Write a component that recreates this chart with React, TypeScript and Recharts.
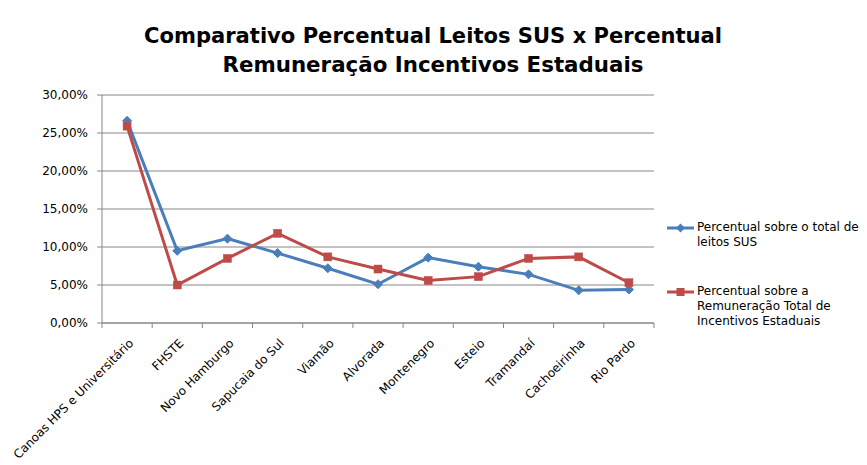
import React from "react";
import { LineChart, Line, XAxis, YAxis, CartesianGrid } from "recharts";

const categories = [
  "Canoas HPS e Universitário",
  "FHSTE",
  "Novo Hamburgo",
  "Sapucaia do Sul",
  "Viamão",
  "Alvorada",
  "Montenegro",
  "Esteio",
  "Tramandaí",
  "Cachoeirinha",
  "Rio Pardo",
];
const leitosSUS = [0.266, 0.095, 0.111, 0.092, 0.072, 0.051, 0.086, 0.074, 0.064, 0.043, 0.044];
const remuneracao = [0.259, 0.05, 0.085, 0.118, 0.087, 0.071, 0.056, 0.061, 0.085, 0.087, 0.053];
const yTicks = [0, 0.05, 0.1, 0.15, 0.2, 0.25, 0.3];
const titleLines = ["Comparativo Percentual Leitos SUS x Percentual", "Remuneração Incentivos Estaduais"];
const seriesNames = ["Percentual sobre o total de leitos SUS", "Percentual sobre a Remuneração Total de Incentivos Estaduais"];

const data = categories.map((c, i) => ({ name: c, leitos: leitosSUS[i], remun: remuneracao[i] }));

const BLUE = "#4A7EBB";
const RED = "#BE4B48";
const GRID = "#868686";
const FONT = "'DejaVu Sans', Verdana, sans-serif";

const fmt = (v: number) => (v * 100).toFixed(2).replace(".", ",") + "%";

const Diamond = (props: any) => {
  const { cx, cy } = props;
  if (cx == null || cy == null) return null;
  const r = 4.5;
  return <path d={`M${cx},${cy - r}L${cx + r},${cy}L${cx},${cy + r}L${cx - r},${cy}Z`} fill={BLUE} stroke={BLUE} strokeWidth={1} />;
};
const Square = (props: any) => {
  const { cx, cy } = props;
  if (cx == null || cy == null) return null;
  return <rect x={cx - 4} y={cy - 4} width={8} height={8} fill={RED} stroke={RED} strokeWidth={0.5} />;
};

const XTick = (props: any) => {
  const { x, y, payload, visibleTicksCount, width } = props;
  const off = payload && payload.offset ? payload.offset : width / (2 * (visibleTicksCount || 11));
  const idx = payload ? payload.index : 0;
  const ax = x + 7;
  const ay = y + 21;
  return (
    <g>
      {idx === 0 && <line x1={x - off} x2={x - off} y1={y} y2={y + 5} stroke={GRID} />}
      <line x1={x + off} x2={x + off} y1={y} y2={y + 5} stroke={GRID} />
      <text x={ax} y={ay} transform={`rotate(-45, ${ax}, ${ay})`} textAnchor="end" fontFamily={FONT} fontSize={12} fill="#000">
        {payload.value}
      </text>
    </g>
  );
};

const LegendItem = ({ color, lines, top, marker }: { color: string; lines: string[]; top: number; marker: "d" | "s" }) => (
  <div style={{ position: "absolute", left: 667, top, fontFamily: FONT, fontSize: 12, lineHeight: "15px", color: "#000" }}>
    <svg width={28} height={10} style={{ position: "absolute", left: 0, top: 3 }}>
      <line x1={0} x2={27} y1={5} y2={5} stroke={color} strokeWidth={3} />
      {marker === "d" ? (
        <path d="M13.5,0.5L18,5L13.5,9.5L9,5Z" fill={color} />
      ) : (
        <rect x={9.5} y={1} width={8} height={8} fill={color} />
      )}
    </svg>
    <div style={{ marginLeft: 30, whiteSpace: "nowrap" }}>
      {lines.map((l, i) => (
        <div key={i}>{l}</div>
      ))}
    </div>
  </div>
);

export default function App() {
  return (
    <div style={{ position: "absolute", left: 0, top: 0, width: 867, height: 465, background: "#fff" }}>
      <svg width={867} height={90} style={{ position: "absolute", left: 0, top: 0 }}>
        <text x={433} y={43} textAnchor="middle" fontFamily={FONT} fontWeight="bold" fontSize={22} textLength={578} lengthAdjust="spacingAndGlyphs" fill="#000">
          {titleLines[0]}
        </text>
        <text x={433} y={72} textAnchor="middle" fontFamily={FONT} fontWeight="bold" fontSize={22} textLength={421} lengthAdjust="spacingAndGlyphs" fill="#000">
          {titleLines[1]}
        </text>
      </svg>
      <div style={{ position: "absolute", left: 0, top: 0 }}>
        <LineChart width={867} height={465} data={data} margin={{ top: 95, right: 213, bottom: 0, left: 0 }}>
          <CartesianGrid vertical={false} stroke={GRID} strokeWidth={1} />
          <XAxis
            dataKey="name"
            scale="band"
            interval={0}
            height={142}
            tickSize={0}
            tickMargin={0}
            tickLine={false}
            axisLine={{ stroke: GRID }}
            tick={<XTick />}
          />
          <YAxis
            width={102}
            domain={[0, 0.3]}
            ticks={yTicks}
            tickFormatter={fmt}
            tickSize={5}
            tickMargin={9}
            tickLine={{ stroke: GRID }}
            axisLine={{ stroke: GRID }}
            tick={{ fontFamily: FONT, fontSize: 12, fill: "#000" }}
          />
          <Line dataKey="leitos" name={seriesNames[0]} stroke={BLUE} strokeWidth={3} dot={<Diamond />} activeDot={false} isAnimationActive={false} />
          <Line dataKey="remun" name={seriesNames[1]} stroke={RED} strokeWidth={3} dot={<Square />} activeDot={false} isAnimationActive={false} />
        </LineChart>
      </div>
      <LegendItem color={BLUE} marker="d" top={220} lines={["Percentual sobre o total de", "leitos SUS"]} />
      <LegendItem color={RED} marker="s" top={284} lines={["Percentual sobre a", "Remuneração Total de", "Incentivos Estaduais"]} />
    </div>
  );
}
